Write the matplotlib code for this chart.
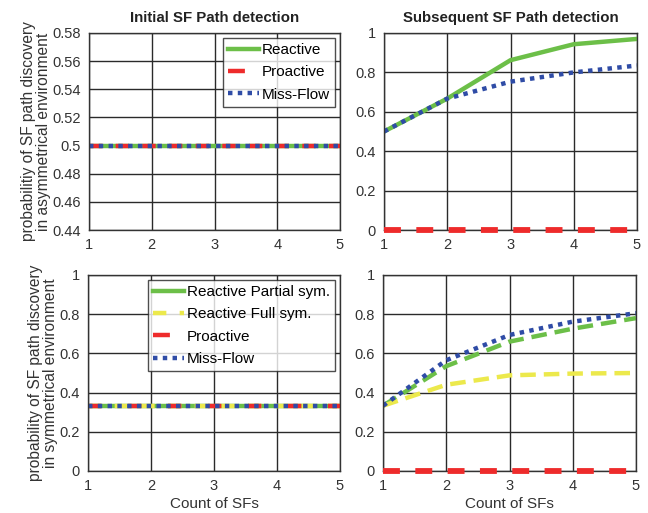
import numpy as np
import matplotlib.pyplot as plt

plt.rcParams['font.family'] = ['Liberation Sans', 'DejaVu Sans']

# DATA
sf_count = [1, 2, 3, 4, 5]

# asymmetrical environment
init_asym_reactive = [0.5, 0.5, 0.5, 0.5, 0.5]
init_asym_proactive = [0.5, 0.5, 0.5, 0.5, 0.5]
init_asym_missflow = [0.5, 0.5, 0.5, 0.5, 0.5]
sub_asym_reactive = [0.5, 0.667, 0.862, 0.943, 0.97]
sub_asym_proactive = [0, 0, 0, 0, 0]
sub_asym_missflow = [0.5, 0.667, 0.753, 0.80, 0.835]

# symmetrical environment
init_sym_partial = [0.333, 0.333, 0.333, 0.333, 0.333]
init_sym_full = [0.333, 0.333, 0.333, 0.333, 0.333]
init_sym_proactive = [0.333, 0.333, 0.333, 0.333, 0.333]
init_sym_missflow = [0.333, 0.333, 0.333, 0.333, 0.333]
sub_sym_partial = [0.333, 0.535, 0.66, 0.726, 0.78]
sub_sym_full = [0.333, 0.44, 0.488, 0.497, 0.5]
sub_sym_proactive = [0, 0, 0, 0, 0]
sub_sym_missflow = [0.333, 0.565, 0.694, 0.762, 0.805]

GREEN = '#6cbf48'
RED = '#ee2b2b'
BLUE = '#2f4ca6'
YELLOW = '#ece94c'
LW = 3.2

fig = plt.figure(figsize=(6.48, 5.13), dpi=100)
W, H = 648, 513
def box(x0, y0, x1, y1):
    return [x0 / W, 1 - y1 / H, (x1 - x0) / W, (y1 - y0) / H]

ax1 = fig.add_axes(box(89, 33, 340, 230))
ax2 = fig.add_axes(box(384, 33, 637, 230))
ax3 = fig.add_axes(box(88, 275, 340, 471))
ax4 = fig.add_axes(box(383, 275, 636, 471))

def style(ax):
    ax.set_xlim(1, 5)
    ax.set_xticks([1, 2, 3, 4, 5])
    ax.grid(True, color='#2a2a2a', linewidth=1.0)
    ax.tick_params(length=0, labelsize=10.5, colors='#333333', pad=6)
    for s in ax.spines.values():
        s.set_color('#333333')
        s.set_linewidth(1.0)

def legend(ax, proactive_idx):
    leg = ax.legend(loc='upper right', fontsize=11, frameon=True, fancybox=False, edgecolor='#222222',
                    borderaxespad=0.3, handlelength=2.0, handletextpad=0.2, labelspacing=0.55, borderpad=0.35)
    leg.get_frame().set_linewidth(1.0)
    # proactive handle shows one short dash
    leg.get_lines()[proactive_idx].set_dashes((3.8, 6))

# top-left
ax1.plot(sf_count, init_asym_reactive, '-', color=GREEN, lw=LW, label='Reactive')
ax1.plot(sf_count, init_asym_proactive, '--', color=RED, lw=LW, dashes=(3, 3), label='Proactive')
ax1.plot(sf_count, init_asym_missflow, ':', color=BLUE, lw=LW, dashes=(1, 1.2), label='Miss-Flow')
ax1.set_ylim(0.44, 0.58)
ax1.set_yticks([0.44, 0.46, 0.48, 0.5, 0.52, 0.54, 0.56, 0.58])
ax1.set_yticklabels(['0.44', '0.46', '0.48', '0.5', '0.52', '0.54', '0.56', '0.58'])
ax1.set_title('Initial SF Path detection', fontsize=10.8, fontweight='bold', color='#222222', pad=8)
ax1.set_ylabel('probabilitiy of SF path discovery\nin asymmetrical environment', fontsize=11.2, color='#333333', labelpad=1, linespacing=1.0)
style(ax1)
legend(ax1, 1)

# top-right
ax2.plot(sf_count, sub_asym_reactive, '-', color=GREEN, lw=LW)
ax2.plot(sf_count, sub_asym_proactive, '--', color=RED, lw=LW + 1, dashes=(2.9, 2.64), clip_on=False, zorder=5)
ax2.plot(sf_count, sub_asym_missflow, ':', color=BLUE, lw=LW, dashes=(1, 1.2))
ax2.set_ylim(0, 1)
ax2.set_yticks([0, 0.2, 0.4, 0.6, 0.8, 1])
ax2.set_yticklabels(['0', '0.2', '0.4', '0.6', '0.8', '1'])
ax2.set_title('Subsequent SF Path detection', fontsize=10.8, fontweight='bold', color='#222222', pad=8)
style(ax2)

# bottom-left
ax3.plot(sf_count, init_sym_partial, '-', color=GREEN, lw=LW, label='Reactive Partial sym.')
ax3.plot(sf_count, init_sym_full, '--', color=YELLOW, lw=LW, dashes=(3, 3), label='Reactive Full sym.')
ax3.plot(sf_count, init_sym_proactive, '--', color=RED, lw=LW, dashes=(3, 6), label='Proactive')
ax3.plot(sf_count, init_sym_missflow, ':', color=BLUE, lw=LW, dashes=(1, 1.2), label='Miss-Flow')
ax3.set_ylim(0, 1)
ax3.set_yticks([0, 0.2, 0.4, 0.6, 0.8, 1])
ax3.set_yticklabels(['0', '0.2', '0.4', '0.6', '0.8', '1'])
ax3.set_xlabel('Count of SFs', fontsize=11, color='#333333', labelpad=3)
ax3.set_ylabel('probability of SF path discovery\nin symmetrical environment', fontsize=11.2, color='#333333', labelpad=1, linespacing=1.0)
style(ax3)
legend(ax3, 2)

# bottom-right
ax4.plot(sf_count, sub_sym_partial, '--', color=GREEN, lw=LW, dashes=(3.5, 1.8))
ax4.plot(sf_count, sub_sym_full, '--', color=YELLOW, lw=LW, dashes=(3.5, 1.8))
ax4.plot(sf_count, sub_sym_proactive, '--', color=RED, lw=LW + 1, dashes=(2.9, 2.64), clip_on=False, zorder=5)
ax4.plot(sf_count, sub_sym_missflow, ':', color=BLUE, lw=LW, dashes=(1, 1.2))
ax4.set_ylim(0, 1)
ax4.set_yticks([0, 0.2, 0.4, 0.6, 0.8, 1])
ax4.set_yticklabels(['0', '0.2', '0.4', '0.6', '0.8', '1'])
ax4.set_xlabel('Count of SFs', fontsize=11, color='#333333', labelpad=3)
style(ax4)

fig.savefig('out.png', dpi=100)
